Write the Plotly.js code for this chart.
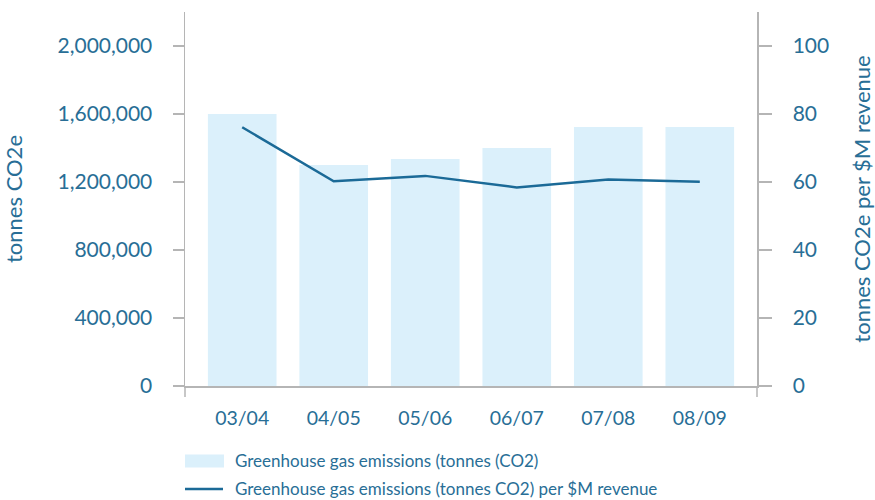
<!DOCTYPE html>
<html>
<head>
<meta charset="utf-8">
<script src="https://cdn.plot.ly/plotly-3.0.1.min.js"></script>
<style>html,body{margin:0;padding:0;background:#fff}#chart{width:875px;height:500px}</style>
</head>
<body>
<div id="chart"></div>
<script>
// ---- data ----
var categories = ['03/04', '04/05', '05/06', '06/07', '07/08', '08/09'];
var emissions = [1600000, 1300000, 1335000, 1400000, 1524000, 1524000];
var intensity = [76.1, 60.2, 61.8, 58.4, 60.7, 60.1];
var seriesNames = ['Greenhouse gas emissions (tonnes (CO2)', 'Greenhouse gas emissions (tonnes CO2) per $M revenue'];
var leftTicks = [0, 400000, 800000, 1200000, 1600000, 2000000];
var rightTicks = [0, 20, 40, 60, 80, 100];

var textColor = '#286e96';
var lineColor = '#1b6a97';
var barColor = '#dbf0fb';
var axisColor = '#b5b5b5';
var fontFamily = 'Lato, "Open Sans", sans-serif';

var traces = [
  {type: 'bar', x: categories, y: emissions, name: seriesNames[0],
   marker: {color: barColor}, width: 0.75, yaxis: 'y', hoverinfo: 'skip'},
  {type: 'scatter', mode: 'lines', x: categories, y: intensity, name: seriesNames[1],
   line: {color: lineColor, width: 2.5}, yaxis: 'y2', hoverinfo: 'skip'}
];

var legendRows = [-0.2005, -0.2754];
var layout = {
  width: 875, height: 500,
  margin: {l: 185, r: 118, t: 12, b: 114},
  paper_bgcolor: '#fff', plot_bgcolor: '#fff',
  showlegend: false,
  font: {family: fontFamily, color: textColor, size: 20},
  xaxis: {
    type: 'category', range: [-0.625, 5.625],
    showline: true, linecolor: axisColor, linewidth: 1.5,
    ticks: '', showgrid: false, zeroline: false,
    tickfont: {size: 19.5, color: textColor}, ticklabelstandoff: 14
  },
  yaxis: {
    range: [0, 2200000], tickvals: leftTicks,
    ticktext: leftTicks.map(function(v){return v.toLocaleString('en-US');}),
    showline: true, linecolor: axisColor, linewidth: 1.5,
    ticks: 'outside', ticklen: 11, tickwidth: 1.5, tickcolor: axisColor,
    showgrid: false, zeroline: false,
    tickfont: {size: 21, color: textColor}, ticklabelstandoff: 16,
    title: {text: 'tonnes CO2e', font: {size: 22, color: textColor}, standoff: 32}
  },
  yaxis2: {
    range: [0, 110], tickvals: rightTicks, overlaying: 'y', side: 'right',
    showline: true, linecolor: axisColor, linewidth: 1.5,
    ticks: 'outside', ticklen: 13, tickwidth: 1.5, tickcolor: axisColor,
    showgrid: false, zeroline: false,
    tickfont: {size: 21, color: textColor}, ticklabelstandoff: 17,
    title: {text: 'tonnes CO2e per $M revenue', font: {size: 22, color: textColor}, standoff: 30}
  },
  shapes: [
    {type: 'line', xref: 'paper', yref: 'paper', x0: 0, x1: 0, ysizemode: 'pixel', yanchor: 0, y0: 0, y1: -11,
     line: {color: axisColor, width: 1.5}},
    {type: 'line', xref: 'paper', yref: 'paper', x0: 1, x1: 1, ysizemode: 'pixel', yanchor: 0, y0: 0, y1: -11,
     line: {color: axisColor, width: 1.5}},
    {type: 'rect', xref: 'paper', yref: 'paper', xsizemode: 'pixel', ysizemode: 'pixel',
     xanchor: 0, x0: 0, x1: 39, yanchor: legendRows[0], y0: -6.5, y1: 6.5,
     fillcolor: barColor, line: {width: 0}},
    {type: 'line', xref: 'paper', yref: 'paper', xsizemode: 'pixel', ysizemode: 'pixel',
     xanchor: 0, x0: 0, x1: 38, yanchor: legendRows[1], y0: 0, y1: 0,
     line: {color: lineColor, width: 2.5}}
  ],
  annotations: [
    {xref: 'paper', yref: 'paper', x: 0.0839, y: legendRows[0], xanchor: 'left', yanchor: 'middle',
     text: seriesNames[0], showarrow: false, font: {size: 17, color: textColor}},
    {xref: 'paper', yref: 'paper', x: 0.0839, y: legendRows[1], xanchor: 'left', yanchor: 'middle',
     text: seriesNames[1], showarrow: false, font: {size: 17, color: textColor}}
  ]
};

Plotly.newPlot('chart', traces, layout, {displayModeBar: false, staticPlot: true});
</script>
</body>
</html>
